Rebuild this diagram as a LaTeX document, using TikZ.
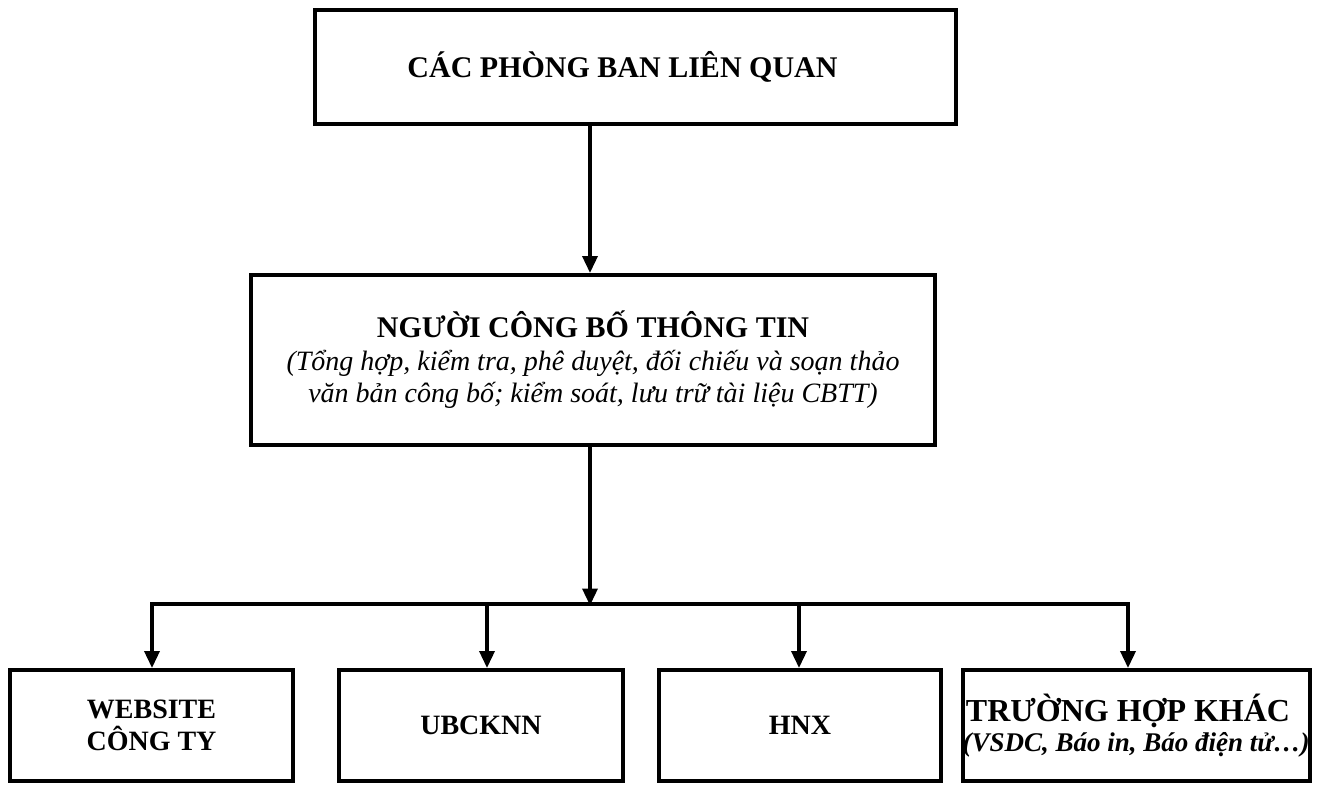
\documentclass[tikz,border=0pt]{standalone}
\usepackage{fontspec}
\setmainfont{Liberation Serif}
\usetikzlibrary{arrows.meta}
\begin{document}
\begin{tikzpicture}[x=1pt,y=-1pt,
  box/.style={draw=black,line width=4pt,rectangle,inner sep=0pt,align=center,text=black},
  conn/.style={draw=black,line width=3.5pt},
  arr/.style={conn,-{Triangle[width=15pt,length=17pt]}},
  bfont/.style={font=\fontsize{28}{32}\selectfont\bfseries}]
\useasboundingbox (0,0) rectangle (1317,785);
\node[box,minimum width=641pt,minimum height=114pt] (top) at (635.5,67)
  {\fontsize{30}{34}\selectfont\bfseries\hspace*{-26pt}CÁC PHÒNG BAN LIÊN QUAN};
\node[box,minimum width=684pt,minimum height=170pt,font=\fontsize{28}{32.5}\selectfont] (mid) at (593,360)
  {{\fontsize{30}{33}\selectfont\bfseries NGƯỜI CÔNG BỐ THÔNG TIN}\\
   {\itshape (Tổng hợp, kiểm tra, phê duyệt, đối chiếu và soạn thảo}\\
   {\itshape văn bản công bố; kiểm soát, lưu trữ tài liệu CBTT)}};
\node[box,bfont,minimum width=283pt,minimum height=111pt] (b1) at (151.5,725.5) {WEBSITE\\CÔNG TY};
\node[box,bfont,minimum width=284pt,minimum height=111pt] (b2) at (481,725.5) {UBCKNN};
\node[box,bfont,minimum width=282pt,minimum height=111pt] (b3) at (800,725.5) {HNX};
\node[box,minimum width=344pt,minimum height=111pt,font=\fontsize{27}{30}\selectfont] (b4) at (1136,725.5)
  {{\fontsize{32}{32}\selectfont\bfseries\hspace*{-16pt}TRƯỜNG HỢP KHÁC}\\
   {\bfseries\itshape (VSDC, Báo in, Báo điện tử…)}};
\coordinate (c0) at (590,0);
\coordinate (bus) at (590,604);
\coordinate (t1) at (152,604);
\coordinate (t2) at (487,604);
\coordinate (t3) at (799,604);
\coordinate (t4) at (1128,604);
\draw[arr] (c0 |- top.south) -- (c0 |- mid.north);
\draw[arr,shorten >=-1.5pt] (c0 |- mid.south) -- (bus);
\draw[conn,line cap=rect] (t1) -- (t4);
\draw[arr] (t1) -- (t1 |- b1.north);
\draw[arr] (t2) -- (t2 |- b2.north);
\draw[arr] (t3) -- (t3 |- b3.north);
\draw[arr] (t4) -- (t4 |- b4.north);
\end{tikzpicture}
\end{document}
